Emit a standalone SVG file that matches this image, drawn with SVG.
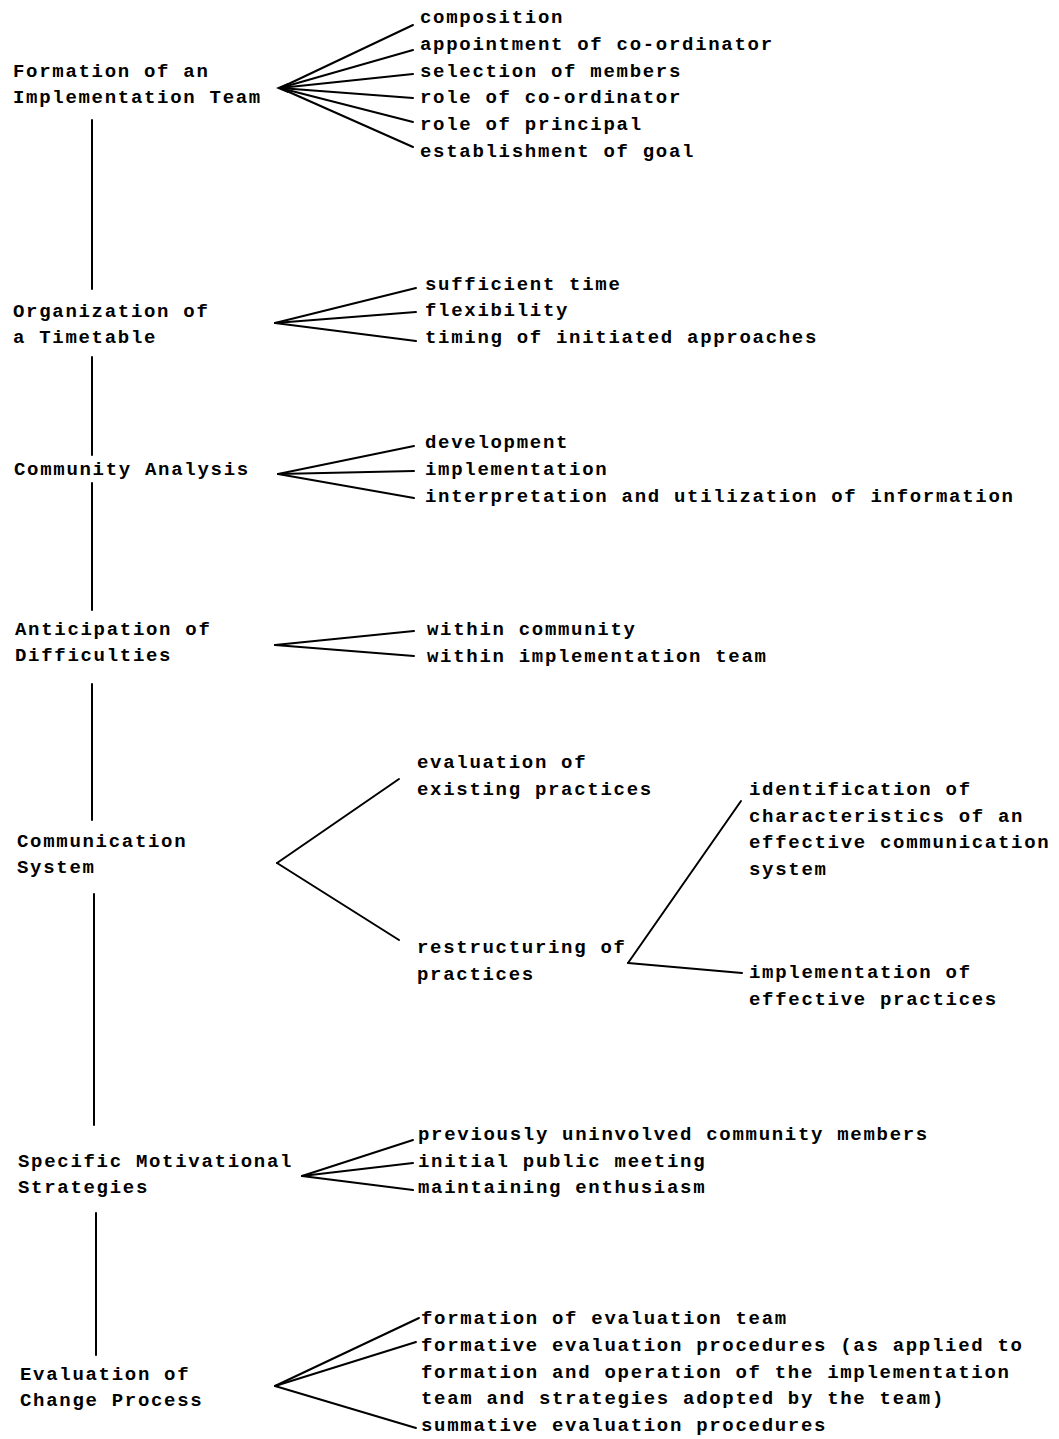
<svg xmlns="http://www.w3.org/2000/svg" width="1059" height="1439" viewBox="0 0 1059 1439">
<style>
text{font-family:"Liberation Mono","DejaVu Sans Mono",monospace;font-size:19px;font-weight:bold;letter-spacing:1.7px;fill:#000}
.c line,.c polyline{stroke:#000;stroke-width:2;fill:none;stroke-linecap:round}
</style>
<rect width="1059" height="1439" fill="#fff"/>
<g class="c" id="connectors">
<line x1="92" y1="120" x2="92" y2="289"/>
<line x1="92" y1="357" x2="92" y2="455"/>
<line x1="92" y1="483" x2="92" y2="610"/>
<line x1="92" y1="684" x2="92" y2="820"/>
<line x1="94" y1="894" x2="94" y2="1125"/>
<line x1="96" y1="1213" x2="96" y2="1355"/>
<polygon points="276,88 288,83 288,93" fill="#000"/>
<line x1="280" y1="88" x2="413" y2="25"/>
<line x1="280" y1="88" x2="413" y2="50"/>
<line x1="280" y1="88" x2="413" y2="74"/>
<line x1="280" y1="88" x2="413" y2="98"/>
<line x1="280" y1="88" x2="413" y2="122"/>
<line x1="280" y1="88" x2="413" y2="147"/>
<line x1="275" y1="323" x2="416" y2="288"/>
<line x1="275" y1="323" x2="416" y2="312"/>
<line x1="275" y1="323" x2="416" y2="341"/>
<line x1="278" y1="474" x2="414" y2="446"/>
<line x1="278" y1="474" x2="414" y2="471"/>
<line x1="278" y1="474" x2="414" y2="498"/>
<line x1="275" y1="645" x2="414" y2="631"/>
<line x1="275" y1="645" x2="414" y2="656"/>
<line x1="277" y1="863" x2="399" y2="779"/>
<line x1="277" y1="863" x2="399" y2="940"/>
<line x1="628" y1="963" x2="741" y2="801"/>
<line x1="628" y1="963" x2="742" y2="973"/>
<line x1="302" y1="1176" x2="413" y2="1140"/>
<line x1="302" y1="1176" x2="413" y2="1163"/>
<line x1="302" y1="1176" x2="413" y2="1190"/>
<line x1="275" y1="1386" x2="419" y2="1318"/>
<line x1="275" y1="1386" x2="416" y2="1342"/>
<line x1="275" y1="1386" x2="416" y2="1428"/>
</g>
<g id="n1">
<text x="13" y="77">Formation of an</text>
<text x="13" y="103">Implementation Team</text>
</g>
<g id="n1-items">
<text x="420" y="23">composition</text>
<text x="420" y="50">appointment of co-ordinator</text>
<text x="420" y="77">selection of members</text>
<text x="420" y="103">role of co-ordinator</text>
<text x="420" y="130">role of principal</text>
<text x="420" y="157">establishment of goal</text>
</g>
<g id="n2">
<text x="13" y="317">Organization of</text>
<text x="13" y="343">a Timetable</text>
</g>
<g id="n2-items">
<text x="425" y="290">sufficient time</text>
<text x="425" y="316">flexibility</text>
<text x="425" y="343">timing of initiated approaches</text>
</g>
<g id="n3">
<text x="14" y="475">Community Analysis</text>
</g>
<g id="n3-items">
<text x="425" y="448">development</text>
<text x="425" y="475">implementation</text>
<text x="425" y="502">interpretation and utilization of information</text>
</g>
<g id="n4">
<text x="15" y="635">Anticipation of</text>
<text x="15" y="661">Difficulties</text>
</g>
<g id="n4-items">
<text x="427" y="635">within community</text>
<text x="427" y="662">within implementation team</text>
</g>
<g id="n5">
<text x="17" y="847">Communication</text>
<text x="17" y="873">System</text>
</g>
<g id="n5a">
<text x="417" y="768">evaluation of</text>
<text x="417" y="795">existing practices</text>
</g>
<g id="n5b">
<text x="417" y="953">restructuring of</text>
<text x="417" y="980">practices</text>
</g>
<g id="n5b1">
<text x="749" y="795">identification of</text>
<text x="749" y="822">characteristics of an</text>
<text x="749" y="848">effective communication</text>
<text x="749" y="875">system</text>
</g>
<g id="n5b2">
<text x="749" y="978">implementation of</text>
<text x="749" y="1005">effective practices</text>
</g>
<g id="n6">
<text x="18" y="1167">Specific Motivational</text>
<text x="18" y="1193">Strategies</text>
</g>
<g id="n6-items">
<text x="418" y="1140">previously uninvolved community members</text>
<text x="418" y="1167">initial public meeting</text>
<text x="418" y="1193">maintaining enthusiasm</text>
</g>
<g id="n7">
<text x="20" y="1380">Evaluation of</text>
<text x="20" y="1406">Change Process</text>
</g>
<g id="n7-items">
<text x="421" y="1324">formation of evaluation team</text>
<text x="421" y="1351">formative evaluation procedures (as applied to</text>
<text x="421" y="1378">formation and operation of the implementation</text>
<text x="421" y="1404">team and strategies adopted by the team)</text>
<text x="421" y="1431">summative evaluation procedures</text>
</g>
</svg>
